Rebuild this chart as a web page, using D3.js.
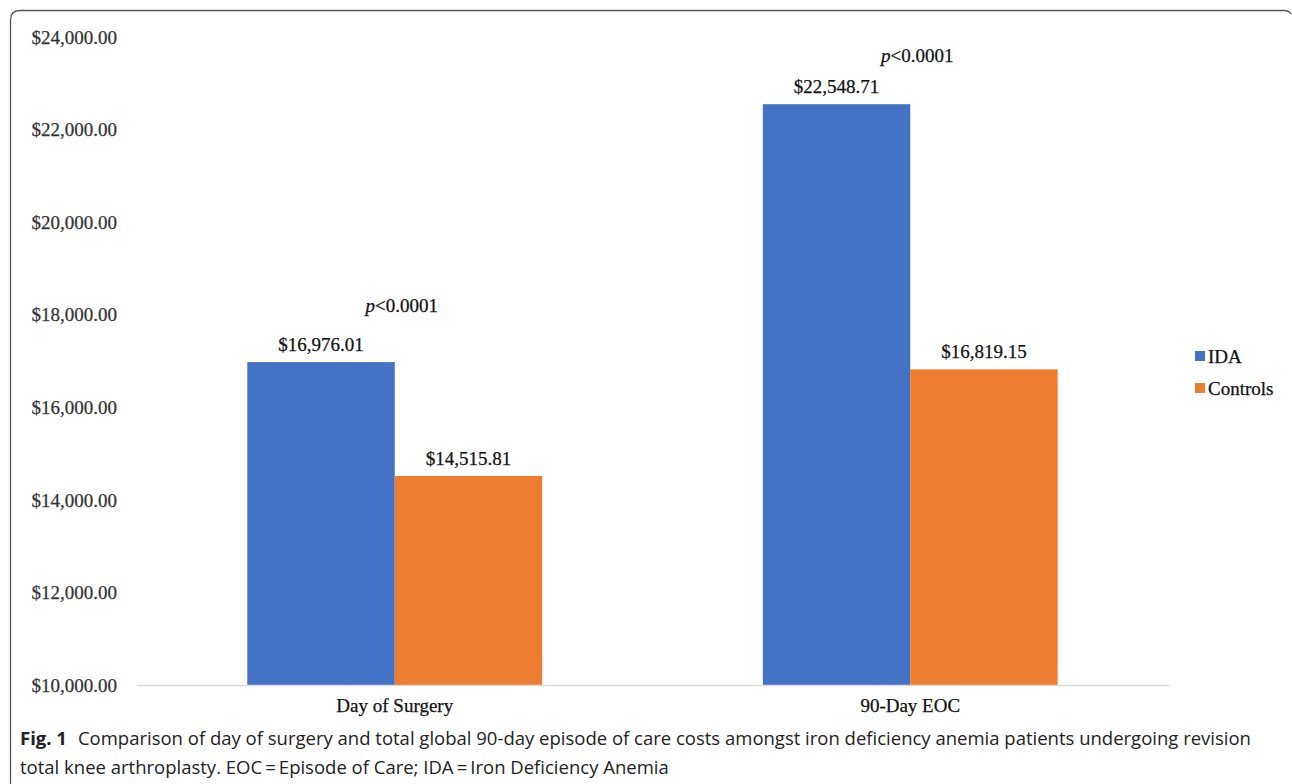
<!DOCTYPE html>
<html><head><meta charset="utf-8">
<script src="https://cdn.jsdelivr.net/npm/d3@7"></script>
<style>body{margin:0;background:#fff}svg{display:block}</style>
</head><body><svg id="c" width="1292" height="784"></svg>
<script>
const categories = ["Day of Surgery", "90-Day EOC"];
const seriesNames = ["IDA", "Controls"];
const idaValues = [16976.01, 22548.71];
const controlValues = [14515.81, 16819.15];
const yTicks = [10000, 12000, 14000, 16000, 18000, 20000, 22000, 24000];
const pLabels = ["<0.0001", "<0.0001"];
const colors = ["#4472c4", "#ed7d31"];
const captionBold = "Fig. 1";
const captionLine1 = "Comparison of day of surgery and total global 90-day episode of care costs amongst iron deficiency anemia patients undergoing revision";
const captionLine2 = "total knee arthroplasty. EOC\u2009=\u2009Episode of Care; IDA\u2009=\u2009Iron Deficiency Anemia";

const svg = d3.select("#c");
const serif = "'Liberation Serif','Times New Roman',serif";
const sans = "'Open Sans','Noto Sans',sans-serif";
const fs = 19;
const pOffsets = [56, 48];

function styleText(sel, color) {
  return sel.attr("font-family", serif).attr("font-size", fs).attr("fill", color)
    .attr("stroke", color).attr("stroke-width", 0.25);
}

// frame
svg.append("path")
  .attr("d", "M10.5,784 L10.5,20 Q10.5,10.5 20,10.5 L1284,10.5 Q1289,10.5 1291,14")
  .attr("fill", "none").attr("stroke", "#555").attr("stroke-width", 1.3);

const x0 = d3.scaleBand().domain(categories).range([137, 1168]).paddingInner(0.428).paddingOuter(0.214);
const x1 = d3.scaleBand().domain(seriesNames).range([0, x0.bandwidth()]);
const y = d3.scaleLinear().domain([10000, 24000]).range([685, 37]);

const fmt = v => "$" + d3.format(",.2f")(v);

// y tick labels
styleText(svg.append("g").selectAll("text").data(yTicks).join("text")
  .attr("x", 117).attr("y", d => y(d)).attr("dy", "0.35em")
  .attr("text-anchor", "end"), "#333")
  .text(d => fmt(d));

const data = categories.map((c, i) => ({cat: c, vals: [idaValues[i], controlValues[i]]}));

const g = svg.append("g");
data.forEach((d, ci) => {
  d.vals.forEach((v, si) => {
    const bx = x0(d.cat) + x1(seriesNames[si]);
    g.append("rect").attr("x", bx).attr("y", y(v)).attr("width", x1.bandwidth()).attr("height", y(10000) - y(v))
      .attr("fill", colors[si]);
    styleText(g.append("text").attr("x", bx + x1.bandwidth() / 2).attr("y", y(v) - 11)
      .attr("text-anchor", "middle"), "#111")
      .text(fmt(v));
  });
  const maxV = d3.max(d.vals);
  const t = styleText(g.append("text").attr("x", x0(d.cat) + x0.bandwidth() / 2 + 7).attr("y", y(maxV) - pOffsets[ci] + 6)
    .attr("text-anchor", "middle"), "#111");
  t.append("tspan").attr("font-style", "italic").text("p");
  t.append("tspan").text(pLabels[ci]);
});

// baseline
svg.append("line").attr("x1", 137).attr("x2", 1169).attr("y1", y(10000) + 0.5).attr("y2", y(10000) + 0.5)
  .attr("stroke", "#d9d9d9").attr("stroke-width", 1.3);

// category labels
styleText(svg.append("g").selectAll("text").data(categories).join("text")
  .attr("x", d => x0(d) + x0.bandwidth() / 2).attr("y", 712)
  .attr("text-anchor", "middle"), "#111")
  .text(d => d);

// legend
const lg = svg.append("g");
seriesNames.forEach((s, i) => {
  const ly = 356 + i * 32;
  lg.append("rect").attr("x", 1195).attr("y", ly - 5).attr("width", 10).attr("height", 10).attr("fill", colors[i]);
  styleText(lg.append("text").attr("x", 1208).attr("y", ly).attr("dy", "0.35em"), "#111").text(s);
});

// caption
const cap = svg.append("text").attr("x", 20).attr("y", 745).attr("font-family", sans).attr("font-size", 18.5).attr("fill", "#222");
cap.append("tspan").attr("font-weight", "bold").text(captionBold);
cap.append("tspan").attr("dx", 11).text(captionLine1);
svg.append("text").attr("x", 20).attr("y", 774).attr("font-family", sans).attr("font-size", 18.5).attr("fill", "#222")
  .text(captionLine2);
</script></body></html>
